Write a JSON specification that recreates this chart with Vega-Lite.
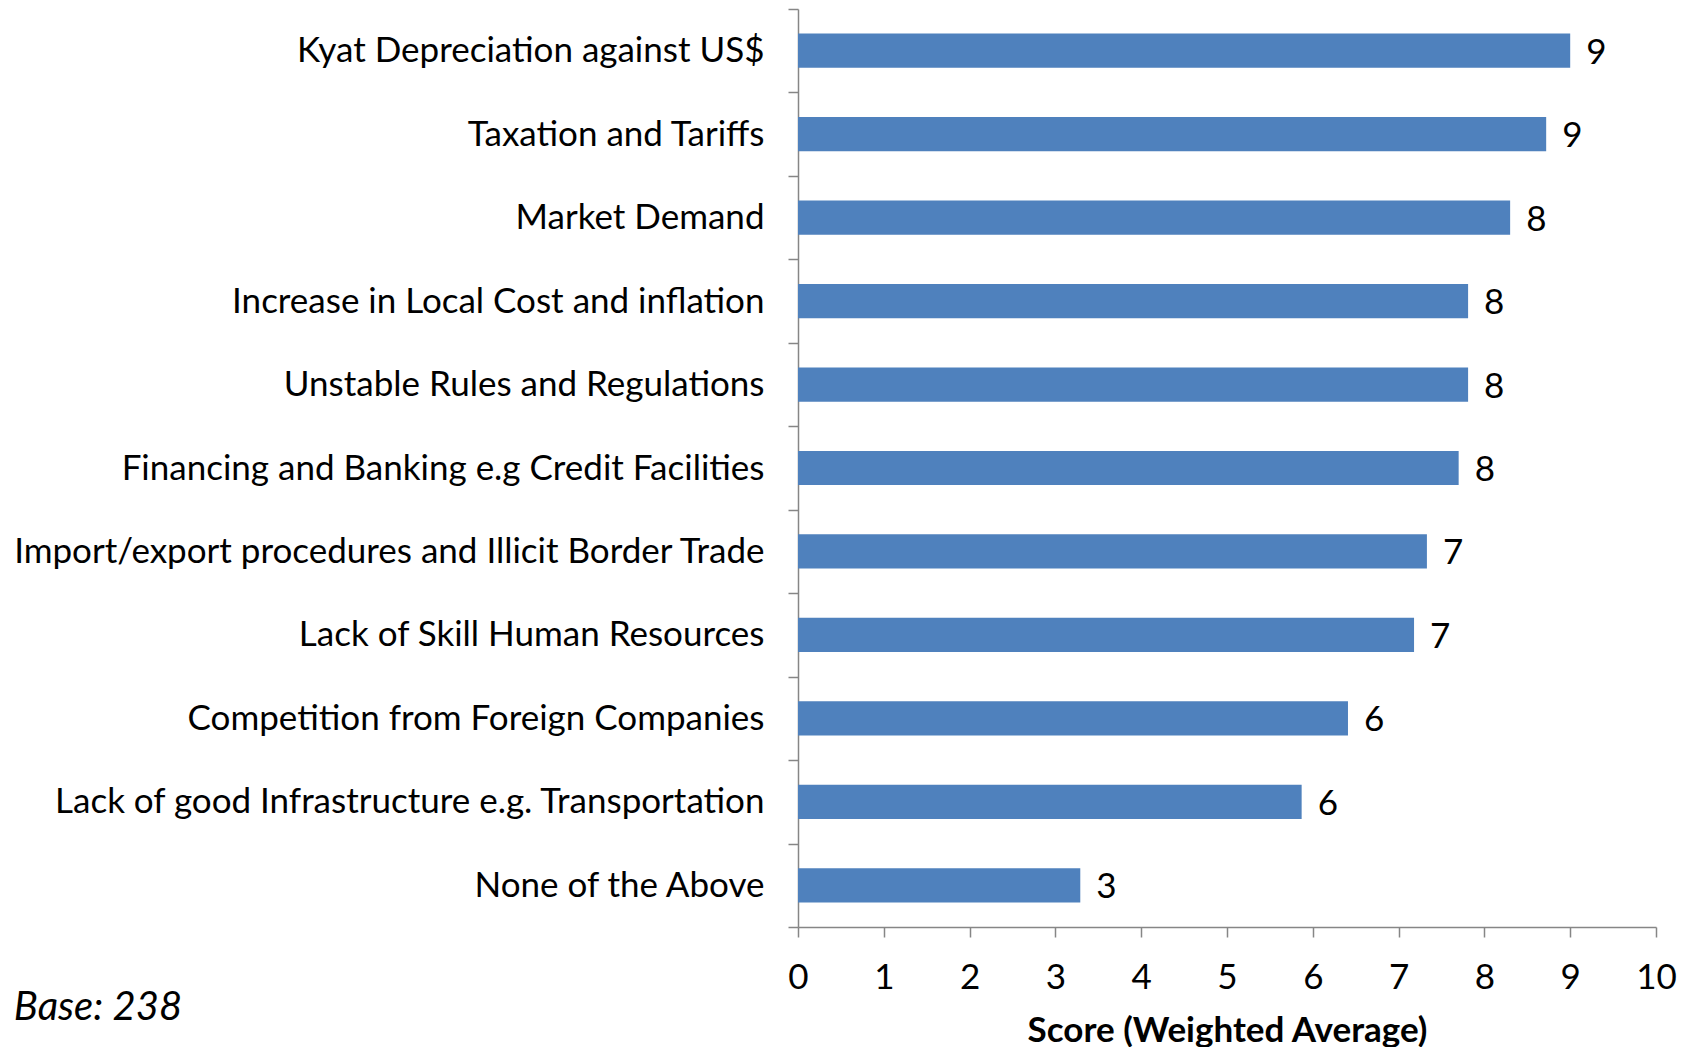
{
  "$schema": "https://vega.github.io/schema/vega-lite/v6.json",
  "autosize": "none",
  "width": 858,
  "height": 918,
  "padding": {"left": 798, "top": 9, "right": 39, "bottom": 120},
  "background": "white",
  "config": {"view": {"stroke": null}, "font": "Lato"},
  "title": {
    "text": "Base: 238",
    "orient": "bottom",
    "anchor": "start",
    "frame": "bounds",
    "font": "Lato",
    "fontStyle": "italic",
    "fontWeight": "normal",
    "fontSize": 40,
    "color": "black",
    "dx": 2,
    "offset": -60
  },
  "data": {
    "values": [
      {"category": "Kyat Depreciation against US$", "score": 9.0},
      {"category": "Taxation and Tariffs", "score": 8.72},
      {"category": "Market Demand", "score": 8.3},
      {"category": "Increase in Local Cost and inflation", "score": 7.81},
      {"category": "Unstable Rules and Regulations", "score": 7.81},
      {"category": "Financing and Banking e.g Credit Facilities", "score": 7.7},
      {"category": "Import/export procedures and Illicit Border Trade", "score": 7.33},
      {"category": "Lack of Skill Human Resources", "score": 7.18},
      {"category": "Competition from Foreign Companies", "score": 6.41},
      {"category": "Lack of good Infrastructure e.g. Transportation", "score": 5.87},
      {"category": "None of the Above", "score": 3.29}
    ]
  },
  "encoding": {
    "y": {
      "field": "category",
      "type": "nominal",
      "sort": null,
      "scale": {"paddingInner": 0, "paddingOuter": 0},
      "axis": {
        "title": null,
        "tickBand": "extent",
        "domainColor": "#868686",
        "domainWidth": 1.5,
        "tickColor": "#868686",
        "tickWidth": 1.5,
        "tickSize": 10,
        "labelFont": "Lato",
        "labelFontSize": 35,
        "labelColor": "black",
        "labelPadding": 24,
        "labelLimit": 0
      }
    },
    "x": {
      "field": "score",
      "type": "quantitative",
      "scale": {"domain": [0, 10], "nice": false},
      "axis": {
        "title": "Score (Weighted Average)",
        "values": [0, 1, 2, 3, 4, 5, 6, 7, 8, 9, 10],
        "grid": false,
        "labelFlush": false,
        "domainColor": "#868686",
        "domainWidth": 1.5,
        "tickColor": "#868686",
        "tickWidth": 1.5,
        "tickSize": 10,
        "labelFont": "Lato",
        "labelFontSize": 35,
        "labelColor": "black",
        "labelPadding": 23,
        "titleFont": "Lato",
        "titleFontSize": 35,
        "titleFontWeight": "bold",
        "titleColor": "black",
        "titlePadding": 18
      }
    }
  },
  "layer": [
    {"mark": {"type": "bar", "color": "#4F81BD", "height": {"band": 0.41}}},
    {
      "mark": {"type": "text", "align": "left", "baseline": "middle", "dx": 16, "dy": 2, "fontSize": 35, "font": "Lato", "color": "black"},
      "encoding": {"text": {"field": "score", "type": "quantitative", "format": ".0f"}}
    }
  ]
}
